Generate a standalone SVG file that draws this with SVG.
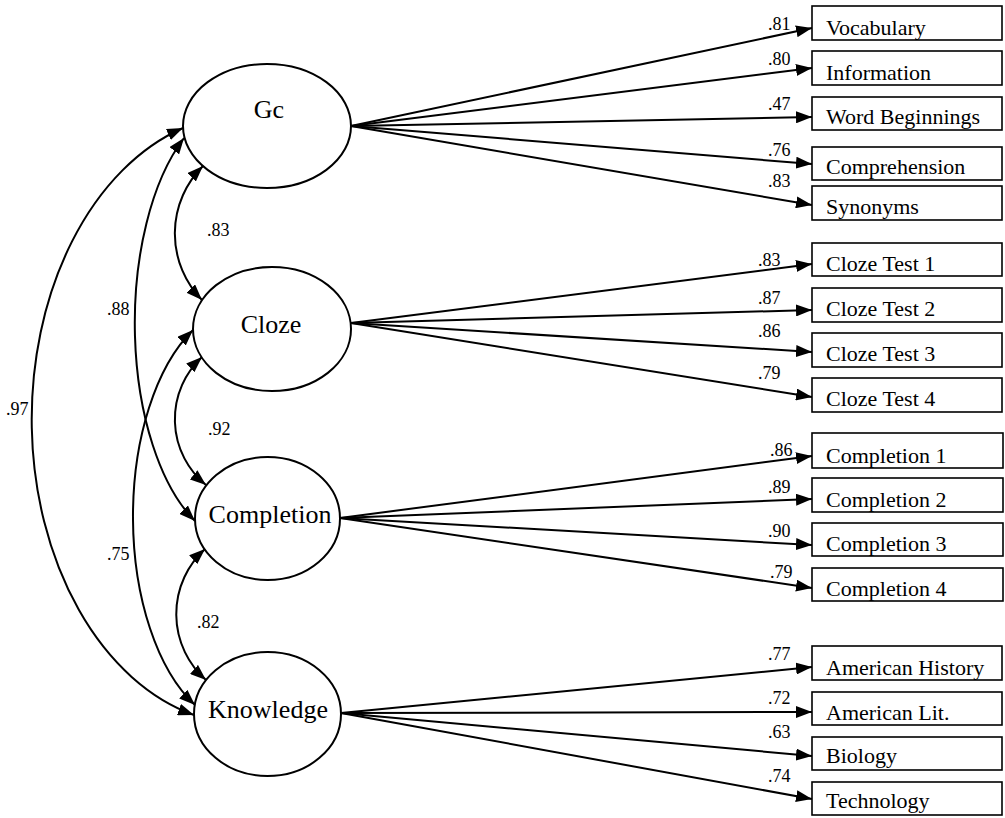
<svg xmlns="http://www.w3.org/2000/svg" width="1005" height="818" viewBox="0 0 1005 818">
<style>
.lat{fill:#fff;stroke:#000;stroke-width:2}
.box{fill:#fff;stroke:#000;stroke-width:1.6}
.lt{font-family:"Liberation Serif","Times New Roman",serif;font-size:26px;fill:#000;text-anchor:middle}
.bt{font-family:"Liberation Serif","Times New Roman",serif;font-size:22px;fill:#000}
.nm{font-family:"Liberation Serif","Times New Roman",serif;font-size:18px;fill:#000}
.ln{fill:none;stroke:#000;stroke-width:2;marker-end:url(#ah)}
.cv{fill:none;stroke:#000;stroke-width:2;marker-start:url(#ah);marker-end:url(#ah)}
</style>
<defs>
<marker id="ah" viewBox="0 0 16 12" refX="16" refY="6" markerWidth="16" markerHeight="12" markerUnits="userSpaceOnUse" orient="auto-start-reverse">
<path d="M0,0 L16,6 L0,12 Z" fill="#000"/>
</marker>
</defs>
<rect width="1005" height="818" fill="#fff"/>

<g id="connectors">
<path class="ln" d="M351,126 L812,28"/>
<path class="ln" d="M351,126 L812,68"/>
<path class="ln" d="M351,126 L812,117"/>
<path class="ln" d="M351,126 L812,164"/>
<path class="ln" d="M351,126 L812,205"/>
<path class="ln" d="M351,323 L812,264"/>
<path class="ln" d="M351,323 L812,310"/>
<path class="ln" d="M351,323 L812,352"/>
<path class="ln" d="M351,323 L812,397"/>
<path class="ln" d="M340,518 L812,456"/>
<path class="ln" d="M340,518 L812,499"/>
<path class="ln" d="M340,518 L812,545"/>
<path class="ln" d="M340,518 L812,588"/>
<path class="ln" d="M341,713 L812,667"/>
<path class="ln" d="M341,713 L812,712"/>
<path class="ln" d="M341,713 L812,756"/>
<path class="ln" d="M341,713 L812,799"/>
<path class="cv" d="M203,166 A95,95 0 0 0 202,300"/>
<path class="cv" d="M202,357 A85,85 0 0 0 206,485"/>
<path class="cv" d="M205,549 A88,88 0 0 0 206,680"/>
<path class="cv" d="M184,138 A107,220 0 0 0 195,521"/>
<path class="cv" d="M193,330 A111,210 0 0 0 195,705"/>
<path class="cv" d="M183,128 A215,305 0 0 0 194,715"/>
<text class="nm" x="207" y="236">.83</text>
<text class="nm" x="208" y="435">.92</text>
<text class="nm" x="197" y="628">.82</text>
<text class="nm" x="107" y="315">.88</text>
<text class="nm" x="107" y="560">.75</text>
<text class="nm" x="6" y="415">.97</text>
<text class="nm" x="768" y="30">.81</text>
<text class="nm" x="768" y="65">.80</text>
<text class="nm" x="768" y="110">.47</text>
<text class="nm" x="768" y="156">.76</text>
<text class="nm" x="768" y="187">.83</text>
<text class="nm" x="758" y="266">.83</text>
<text class="nm" x="758" y="304">.87</text>
<text class="nm" x="758" y="337">.86</text>
<text class="nm" x="758" y="379">.79</text>
<text class="nm" x="770" y="456">.86</text>
<text class="nm" x="768" y="493">.89</text>
<text class="nm" x="768" y="537">.90</text>
<text class="nm" x="770" y="578">.79</text>
<text class="nm" x="768" y="660">.77</text>
<text class="nm" x="768" y="704">.72</text>
<text class="nm" x="768" y="738">.63</text>
<text class="nm" x="768" y="782">.74</text>
</g>

<g id="Gc"><ellipse class="lat" cx="267" cy="126" rx="84" ry="62"/><text class="lt" x="269" y="118">Gc</text></g>
<g id="Cloze"><ellipse class="lat" cx="272" cy="329" rx="79" ry="62"/><text class="lt" x="271" y="333">Cloze</text></g>
<g id="Completion"><ellipse class="lat" cx="267.5" cy="518.5" rx="72.5" ry="61.5"/><text class="lt" x="270" y="523">Completion</text></g>
<g id="Knowledge"><ellipse class="lat" cx="267.5" cy="714" rx="73.5" ry="62"/><text class="lt" x="268" y="718">Knowledge</text></g>

<g id="Vocabulary"><rect class="box" x="812" y="6" width="190" height="34"/><text class="bt" x="826" y="35">Vocabulary</text></g>
<g id="Information"><rect class="box" x="812" y="51" width="190" height="34"/><text class="bt" x="826" y="80">Information</text></g>
<g id="WordBeginnings"><rect class="box" x="812" y="97" width="190" height="33"/><text class="bt" x="826" y="124">Word Beginnings</text></g>
<g id="Comprehension"><rect class="box" x="812" y="147" width="190" height="33"/><text class="bt" x="826" y="174">Comprehension</text></g>
<g id="Synonyms"><rect class="box" x="812" y="186" width="190" height="34"/><text class="bt" x="826" y="214">Synonyms</text></g>

<g id="ClozeTest1"><rect class="box" x="812" y="243" width="190" height="33"/><text class="bt" x="826" y="271">Cloze Test 1</text></g>
<g id="ClozeTest2"><rect class="box" x="812" y="288" width="190" height="34"/><text class="bt" x="826" y="316">Cloze Test 2</text></g>
<g id="ClozeTest3"><rect class="box" x="812" y="333" width="190" height="34"/><text class="bt" x="826" y="361">Cloze Test 3</text></g>
<g id="ClozeTest4"><rect class="box" x="812" y="378" width="190" height="34"/><text class="bt" x="826" y="406">Cloze Test 4</text></g>

<g id="Completion1"><rect class="box" x="812" y="433" width="191" height="35"/><text class="bt" x="826" y="463">Completion 1</text></g>
<g id="Completion2"><rect class="box" x="812" y="478" width="191" height="34"/><text class="bt" x="826" y="507">Completion 2</text></g>
<g id="Completion3"><rect class="box" x="812" y="523" width="191" height="33"/><text class="bt" x="826" y="551">Completion 3</text></g>
<g id="Completion4"><rect class="box" x="812" y="568" width="191" height="33"/><text class="bt" x="826" y="596">Completion 4</text></g>

<g id="AmericanHistory"><rect class="box" x="812" y="646" width="190" height="34"/><text class="bt" x="826" y="675">American History</text></g>
<g id="AmericanLit"><rect class="box" x="812" y="692" width="190" height="33"/><text class="bt" x="826" y="720">American Lit.</text></g>
<g id="Biology"><rect class="box" x="812" y="737" width="190" height="33"/><text class="bt" x="826" y="763">Biology</text></g>
<g id="Technology"><rect class="box" x="812" y="782" width="190" height="33"/><text class="bt" x="826" y="808">Technology</text></g>
</svg>
